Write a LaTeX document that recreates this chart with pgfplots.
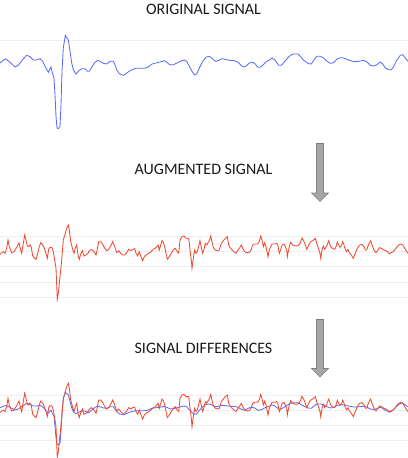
\documentclass[border=0pt]{standalone}
\usepackage{pgfplots}
\pgfplotsset{compat=1.18}
\usepackage{pgfplotstable}
\usepackage{fontspec}
\setmainfont{Carlito}
\definecolor{sigblue}{HTML}{5A6BFF}
\definecolor{sigred}{HTML}{F04A32}
\definecolor{arrowfill}{HTML}{A6A6A6}
\definecolor{arrowedge}{HTML}{7F7F7F}
\definecolor{gridc}{HTML}{EEEEEE}

\pgfplotstableread{
x y
0 63
4 59.7
6 59
10 62.3
15 67
18.3 65.3
22.7 59.7
26.7 55.3
30 56.7
33.3 60
36.7 60
40 58.7
42.7 61.3
45 66.3
48.3 72.3
50 68.7
51 67
52.3 73
54 78
55 94.7
56 116.3
57 128
58.3 128.7
60 126.3
61 104.7
62 71.3
63.3 48
65.3 35.3
66.7 38
68.3 39.7
70 51.3
71.7 63
73.3 69.7
76 74
78.3 71.3
81.7 68.7
85 68.7
87.3 71.3
89.3 71.3
91.7 67.3
95 62.3
97.7 60.3
100 61.3
103.3 63.3
106.7 64
110 61.3
113.3 61.3
115 64.7
116.7 69.7
119.3 73.7
121.7 74.7
124 75.3
126.7 73
130 70.7
133.3 69.3
136 68.3
139.3 68.3
144.3 68.3
147.7 67.3
152 64
156 63
160 62
164.3 60.7
167.7 63
170 65
173.3 64.7
177.7 62.7
181 61
184.3 60
186.7 61.3
189.3 66.3
192 71.3
194.3 74.7
196.7 74
199.3 68
202.7 61.3
206 57.3
208.7 56.3
211 57.3
213.3 59.7
216 61.3
218.7 60.3
222 58.7
225.3 59.3
229.3 60.3
234.3 60.7
237.7 62
241 65.3
243.3 67
246 66.3
249.3 63
252.7 62.3
255.3 64
257.7 67.3
260 67.3
262.7 65.3
266 62
269.3 60
272 58
274.7 59.7
278.7 65.3
281.3 65.3
285.3 60.7
290.3 55.3
293.7 54
298 54
300.3 56.3
303.7 60.3
308.7 63.7
311.3 64
313.7 60.3
317 56.3
320.3 56.3
323.7 58
327 61.3
330.3 63.3
333.7 62.7
337 59
340.3 57.7
343.7 58
348.7 60
353.7 61.7
358.7 61.3
363.7 60.3
367 62
370.3 65.3
373.7 66
377 64.7
380.3 62
382.7 64
385.3 68
388.7 69.7
391.3 69.7
393.7 66.3
397 59.7
400.3 55.3
402.7 54.7
405.3 58
408 61.3
}\bluedata

\pgfplotstableread{
x y
0 254.3
1.7 252.7
3.3 251.7
5 253.3
6.7 248.3
8 240
9.3 246.7
11.7 252.7
14 251.7
16.7 247.3
19 242.7
20.7 250
21.7 253.3
23.3 243.3
24.7 235
26 240
27.3 246
28.7 246.7
30 244.7
31.3 247.3
32.7 256
34.7 258.3
36 259.3
37.3 255
39.3 246.7
40.7 242.7
42.7 245
44 247.3
46 253.3
47.3 258.3
48.7 249.3
50 247.3
52 247.7
53.3 251.7
54.7 260
56 268.3
57.3 299.3
58.3 293.3
60 276.7
61.7 260
63.3 240
65.3 233.3
66.7 228.3
68.3 225
69.3 230
70.7 241.7
72.7 249.3
74 253.3
75.3 248.3
76.7 245
78 255
79.3 259.3
81 253.3
82.3 250.7
84 256
86 255
88 253.3
89.3 250.7
91.7 249.3
94 251.7
96 255
97.3 249.3
98.7 241.7
100.7 241.7
102.7 244.3
104.7 248.3
106.7 250.7
108.7 249.3
110.7 246
112.7 241.7
114.7 246.7
116.7 252.7
118.7 250.7
120.7 253.3
122.7 255
124.7 255
126.7 252.7
128.7 249.3
130.7 250.7
132.7 249.3
134.7 248.7
136 253.3
137.7 256
139.3 251.7
141 256.7
142.7 260.7
144.3 256.7
146 255
148.7 253.3
151 251.7
153.3 249.3
155.3 248.3
156.7 246.7
158 245
159.3 250
160.7 245
162 240.7
163.3 242.3
164.7 246.7
166 253.3
167.3 259.3
169.3 256.7
171.3 253.3
173.3 250
175.3 248.3
177.3 251.7
178.7 253.3
180 240
182 236.7
184 236
186 238.3
188.7 238.3
190 250
191.3 260
192 268.3
193.3 258.3
194.7 250
196 253.3
197.3 251.7
198.7 246
200 240.7
201.3 247.3
202.7 253.3
204 249.3
205.3 243.3
206.7 245
208 242.7
209.3 240.7
210.7 236
212 242
213.3 247.3
215.3 250
217.7 250.7
219.3 250
221.3 243.3
223.3 240.7
225.3 238.3
227.3 236.7
228.7 245
230 247.3
232 250
234 251.7
236 253.3
238 250
240 247.3
241.3 245
242.7 248.3
244.7 251.7
246.7 252.7
249.3 252.3
251.3 249.3
252.7 245
254.7 244
257.3 244
259.3 241.7
260.7 236
262 240
263.3 246.7
264.7 242.7
266 246.7
268 256.7
269.3 250
270.7 246.7
272 244
274.7 244
276.7 243.3
278 246
279.3 253.3
280.7 250
282 245
284 244
285.3 246.7
286.7 250
287.3 256.7
288 252.7
289.3 246.7
290.7 242.3
292.7 245
295.3 246
298 245.7
300 243.3
302 238
303.7 240.7
305.3 245
306.7 249.3
308.7 245
310.3 242
312.7 240.7
315.3 238.3
316.7 243.3
318.7 249.3
320 253.3
320.7 258.3
322 250
323.3 246
324.7 249.3
326.7 246
328.7 240.7
330.7 246.7
332.7 248.7
334.7 249.3
336 246.7
337.3 242
338.7 245
340 247.3
341.3 246
342.7 241.7
344 245
345.3 249.3
346.7 251.7
348 249.3
349.3 252.7
351.3 255
353.3 258.3
355.3 253.3
357.3 248.3
359.3 245.3
362 244.3
364 246.7
365.3 250
366.7 250
368 246
369.3 242.7
370.7 240.7
372 245
374 250
376 252.7
378 250
379.3 247.7
381.3 248.3
384 250
386 250.7
388 252
389.3 254
390.7 252.7
392.7 252
394.7 250
396.7 247.3
398.7 245
400.7 244
402.7 245
404.7 248.3
406.7 251.7
408 253.3
}\reddata

\begin{document}
\begin{tikzpicture}
\begin{axis}[
  name=ax,
  width=408bp, height=458bp, scale only axis,
  xmin=0, xmax=408, ymin=0, ymax=458, y dir=reverse,
  axis line style={draw=none},
  xtick=\empty,
  ytick={40.7,236,251.7,266.7,282.3,297.3,395,410,425,440},
  yticklabel=\empty,
  yticklabel style={inner sep=0pt, outer sep=0pt},
  major tick length=0pt,
  ymajorgrids, grid style={gridc, line width=0.7pt},
]
\addplot[sigblue, line width=0.85pt] table[x=x,y=y] {\bluedata};
\addplot[sigred, line width=0.85pt] table[x=x,y=y] {\reddata};
\addplot[sigblue, line width=0.85pt] table[x=x, y expr=372.3+0.5625*\thisrow{y}] {\bluedata};
\addplot[sigred, line width=0.85pt] table[x=x, y expr=\thisrow{y}+158.3] {\reddata};

\node[font=\fontsize{16}{19}\selectfont, text=black!90] at (axis cs:203.5,9) {ORIGINAL SIGNAL};
\node[font=\fontsize{16}{19}\selectfont, text=black!90] at (axis cs:203.5,169) {AUGMENTED SIGNAL};
\node[font=\fontsize{16}{19}\selectfont, text=black!90] at (axis cs:203.5,348) {SIGNAL DIFFERENCES};

\draw[fill=arrowfill, draw=arrowedge, line width=0.6pt]
  (axis cs:316.5,143.5) -- (axis cs:323.5,143.5) -- (axis cs:323.5,193) -- (axis cs:328.5,193)
  -- (axis cs:320,201.5) -- (axis cs:311.5,193) -- (axis cs:316.5,193) -- cycle;
\draw[fill=arrowfill, draw=arrowedge, line width=0.6pt]
  (axis cs:316.5,319.5) -- (axis cs:323.5,319.5) -- (axis cs:323.5,368.5) -- (axis cs:328.5,368.5)
  -- (axis cs:320,377) -- (axis cs:311.5,368.5) -- (axis cs:316.5,368.5) -- cycle;
\end{axis}
\pgfresetboundingbox
\path[use as bounding box] (ax.south west) rectangle (ax.north east);
\end{tikzpicture}
\end{document}
